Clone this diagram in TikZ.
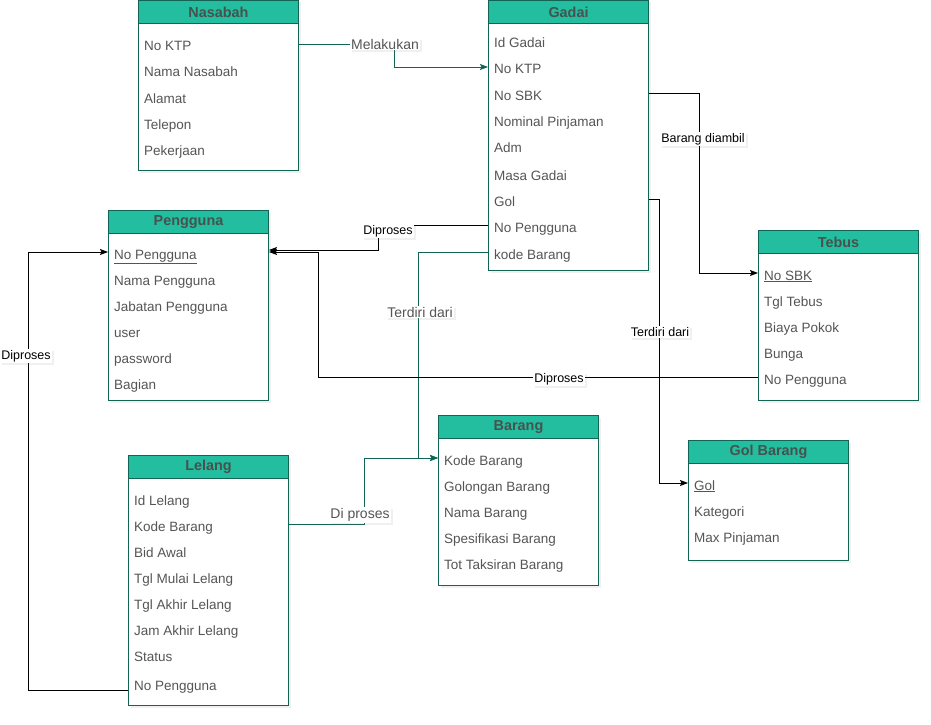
\documentclass[tikz,border=0pt]{standalone}
\usepackage{fontspec}
\setmainfont{Liberation Sans}
\usepackage{xcolor}
\usetikzlibrary{arrows.meta,shadows}

\definecolor{headfill}{RGB}{35,190,160}
\definecolor{tborder}{RGB}{18,100,85}
\definecolor{headtext}{RGB}{70,82,78}
\definecolor{fieldtext}{RGB}{85,85,85}

\begin{document}
\begin{tikzpicture}[x=1pt, y=-1pt, >={Stealth[length=8pt,width=6pt,inset=1.5pt]},
        table/.style={rectangle, draw=tborder, line width=1pt, fill=white,
            minimum width=160pt, anchor=north west, inner sep=0pt,
            drop shadow={shadow xshift=2pt, shadow yshift=-2pt, opacity=0.12}},
        head/.style={rectangle, draw=tborder, line width=1pt, fill=headfill,
            minimum width=160pt, minimum height=23pt, anchor=north, inner sep=0pt,
            font=\fontsize{14.4}{16}\selectfont\bfseries, text=headtext},
        field/.style={anchor=base west, inner sep=0pt, text height=14pt,
            text depth=0pt, font=\fontsize{13.5}{16}\selectfont, text=fieldtext},
        bline/.style={draw=black, line width=0.9pt},
        tline/.style={draw=tborder, line width=0.9pt},
        blabel/.style={fill=white, inner sep=1pt, text=black,
            font=\fontsize{12.5}{14}\selectfont,
            drop shadow={shadow xshift=2pt, shadow yshift=-2pt, opacity=0.12}},
        tlabel/.style={fill=white, inner sep=1pt, text=fieldtext,
            font=\fontsize{14}{16}\selectfont,
            drop shadow={shadow xshift=2pt, shadow yshift=-2pt, opacity=0.12}}]

        \useasboundingbox (0,0) rectangle (931,725);

        % Nasabah
        \node[table, minimum height=170pt] (nasabah) at (138,0) {};
        \node[head] (nasabah-h) at (nasabah.north) {Nasabah};
        \node[field] (nas1) at (144,51) {No KTP};
        \node[field] (nas2) at (144,77) {Nama Nasabah};
        \node[field] (nas3) at (144,103) {Alamat};
        \node[field] (nas4) at (144,129) {Telepon};
        \node[field] (nas5) at (144,155) {Pekerjaan};

        % Gadai
        \node[table, minimum height=270pt] (gadai) at (488,0) {};
        \node[head] (gadai-h) at (gadai.north) {Gadai};
        \node[field] (gad1) at (494,48) {Id Gadai};
        \node[field] (gad2) at (494,74) {No KTP};
        \node[field] (gad3) at (494,100) {No SBK};
        \node[field] (gad4) at (494,126) {Nominal Pinjaman};
        \node[field] (gad5) at (494,152) {Adm};
        \node[field] (gad6) at (494,180) {Masa Gadai};
        \node[field] (gad7) at (494,206) {Gol};
        \node[field] (gad8) at (494,232) {No Pengguna};
        \node[field] (gad9) at (494,259) {kode Barang};

        % Pengguna
        \node[table, minimum height=190pt] (pengguna) at (108,210) {};
        \node[head] (pengguna-h) at (pengguna.north) {Pengguna};
        \node[field] (pen1) at (114,259) {\underline{No Pengguna}};
        \node[field] (pen2) at (114,285) {Nama Pengguna};
        \node[field] (pen3) at (114,311) {Jabatan Pengguna};
        \node[field] (pen4) at (114,337) {user};
        \node[field] (pen5) at (114,363) {password};
        \node[field] (pen6) at (114,389) {Bagian};

        % Tebus
        \node[table, minimum height=170pt] (tebus) at (758,230) {};
        \node[head] (tebus-h) at (tebus.north) {Tebus};
        \node[field] (teb1) at (764,280) {\underline{No SBK}};
        \node[field] (teb2) at (764,306) {Tgl Tebus};
        \node[field] (teb3) at (764,332) {Biaya Pokok};
        \node[field] (teb4) at (764,358) {Bunga};
        \node[field] (teb5) at (764,384) {No Pengguna};

        % Barang
        \node[table, minimum height=170pt] (barang) at (438,415) {};
        \node[head] (barang-h) at (barang.north) {Barang};
        \node[field] (bar1) at (444,465) {Kode Barang};
        \node[field] (bar2) at (444,491) {Golongan Barang};
        \node[field] (bar3) at (444,517) {Nama Barang};
        \node[field] (bar4) at (444,543) {Spesifikasi Barang};
        \node[field] (bar5) at (444,569) {Tot Taksiran Barang};

        % Gol Barang
        \node[table, minimum height=120pt] (golbrg) at (688,440) {};
        \node[head] (golbrg-h) at (golbrg.north) {Gol Barang};
        \node[field] (gol1) at (694,490) {\underline{Gol}};
        \node[field] (gol2) at (694,516) {Kategori};
        \node[field] (gol3) at (694,542) {Max Pinjaman};

        % Lelang
        \node[table, minimum height=250pt] (lelang) at (128,455) {};
        \node[head] (lelang-h) at (lelang.north) {Lelang};
        \node[field] (lel1) at (134,505) {Id Lelang};
        \node[field] (lel2) at (134,531) {Kode Barang};
        \node[field] (lel3) at (134,557) {Bid Awal};
        \node[field] (lel4) at (134,583) {Tgl Mulai Lelang};
        \node[field] (lel5) at (134,609) {Tgl Akhir Lelang};
        \node[field] (lel6) at (134,635) {Jam Akhir Lelang};
        \node[field] (lel7) at (134,661) {Status};
        \node[field] (lel8) at (134,690) {No Pengguna};

        % relasi
        \draw[tline,->] (nas1 -| nasabah.east) -- ++(95,0) |- (gad2 -| gadai.west);
        \draw[bline,->] (gad3 -| gadai.east) -- ++(50,0) |- (teb1 -| tebus.west);
        \draw[bline,->] (gad7 -| gadai.east) -- ++(10,0) |- (gol1 -| golbrg.west);
        \draw[bline,->] (gad8 -| gadai.west) -- ++(-110,0) |- ([yshift=2pt]pen1 -| pengguna.east);
        \draw[tline,->] (gad9 -| gadai.west) -- ++(-70,0) |- (bar1 -| barang.west);
        \draw[bline,->] (teb5 -| tebus.west) -- ++(-440,0) |- (pen1 -| pengguna.east);
        \draw[bline,->] (lel8.base -| lelang.west) -- ++(-100,0) |- (pen1 -| pengguna.west);
        \draw[tline,->] (lel2 -| lelang.east) -- ++(75,0) |- (bar1 -| barang.west);

        \node[tlabel] (melakukan) at (385,44) {Melakukan};
        \node[blabel] (diambil) at (703,139) {Barang diambil};
        \node[blabel] (terdiri2) at (660,332) {Terdiri dari};
        \node[blabel] (diproses1) at (388,231) {Diproses};
        \node[tlabel] (terdiri1) at (420,312) {Terdiri dari};
        \node[blabel] (diproses2) at (559,379) {Diproses};
        \node[blabel] (diproses3) at (26,356) {Diproses};
        \node[tlabel] (diproses4) at (360,515) {Di proses};
    \end{tikzpicture}
\end{document}
